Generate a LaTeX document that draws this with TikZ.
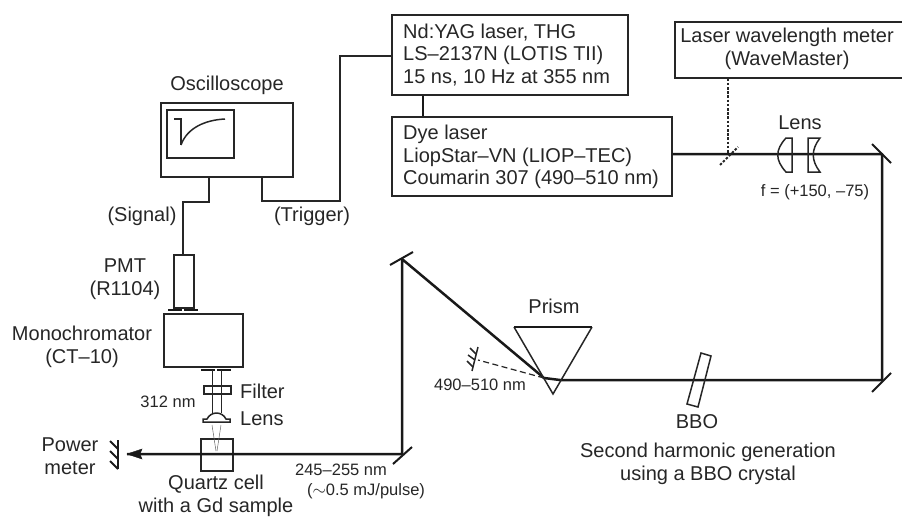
\documentclass[tikz,border=0pt]{standalone}
\usepackage{fontspec}
\setmainfont{Liberation Sans}
\tikzset{
  px/.style={x=1pt,y=-1pt},
  frame/.style={draw=black!85,line width=1.6pt},
  beam/.style={draw=black!90,line width=2.5pt},
  wire/.style={draw=black!85,line width=1.6pt},
  thin part/.style={draw=black!85,line width=1.5pt},
  mirror/.style={draw=black!90,line width=2pt},
  lab/.style={font=\fontsize{20}{22.5}\selectfont,align=center,inner sep=0pt,text=black!85},
  llab/.style={lab,align=left},
  small/.style={font=\fontsize{16.5}{20}\selectfont,align=center,inner sep=0pt,text=black!85},
}
\begin{document}
\begin{tikzpicture}[px]
\useasboundingbox (0,0) rectangle (902,517);
% boxes
\node[frame,minimum width=236pt,minimum height=80pt,anchor=north west] (yag) at (391,14) {};
\node[llab,anchor=west] (yagt) at (403,55) {Nd:YAG laser, THG\\LS–2137N (LOTIS TII)\\15 ns, 10 Hz at 355 nm};
\node[frame,minimum width=280pt,minimum height=79pt,anchor=north west] (dye) at (391,116) {};
\node[llab,anchor=west] (dyet) at (403,157) {Dye laser\\LiopStar–VN (LIOP–TEC)\\Coumarin 307 (490–510 nm)};
\node[frame,minimum width=232pt,minimum height=56pt,anchor=north west] (wm) at (674,21) {};
\node[lab] (wmt) at (787,49) {Laser wavelength meter\\(WaveMaster)};
\node[frame,minimum width=132pt,minimum height=74pt,anchor=north west] (osc) at (160,102) {};
\node[frame,minimum width=67pt,minimum height=48pt,anchor=north west] (scr) at (166,109) {};
\node[lab] (osct) at (227,85) {Oscilloscope};
\node[frame,minimum width=20pt,minimum height=53pt,anchor=north west] (pmt) at (173,254) {};
\node[lab] (pmtt) at (125,279) {PMT\\(R1104)};
\node[frame,minimum width=79pt,minimum height=53pt,anchor=north west] (mono) at (163,313) {};
\node[lab] (monot) at (82,347) {Monochromator\\(CT–10)};
\node[frame,minimum width=32pt,minimum height=32pt,anchor=north west] (cell) at (200,438) {};
\node[frame,minimum width=27pt,minimum height=8pt,anchor=north west] (filter) at (203,385) {};
\node[lab,anchor=west] (filtert) at (240,391) {Filter};
\node[lab,anchor=west] (lenst) at (240,419) {Lens};
\node[small] (nm312) at (168,402) {312 nm};
\node[lab] (powt) at (70,456) {Power\\meter};
\node[lab] (cellt) at (216,496) {Quartz cell\\with a Gd sample};
\node[small] (b245) at (341,470) {245–255 nm};
\node[small] (b05) at (366,491) {($\sim$0.5 mJ/pulse)};
\node[small] (nm490) at (480,385) {490–510 nm};
\node[lab] (prismt) at (554,306) {Prism};
\node[lab] (bbot) at (697,422) {BBO};
\node[lab] (shg) at (708,464) {Second harmonic generation\\using a BBO crystal};
\node[lab] (lenst2) at (800,123) {Lens};
\node[small] (ft) at (815,192) {f = (+150, –75)};
\node[lab] (sig) at (142,216) {(Signal)};
\node[lab] (trig) at (312,216) {(Trigger)};
% wires
\coordinate (w1) at (209,202); \coordinate (w2) at (183,202);
\draw[wire] (osc.south west -| w1) -- (w1) -- (w2) -- (pmt.north west -| w2);
\coordinate (w3) at (262,201); \coordinate (w4) at (340,201); \coordinate (w5) at (340,56);
\draw[wire] (osc.south west -| w3) -- (w3) -- (w4) -- (w5) -- (yag.north west |- w5);
\draw[line width=2.4pt,draw=black!90] (yag.south west -| 423,0) -- (dye.north west -| 423,0);
% trace
\draw[line width=1.5pt,draw=black!85] (174,119) -- (181,119) -- (181,145);
\draw[line width=1.5pt,draw=black!85] (181,145) .. controls (187,128) and (205,120) .. (225,119);
% beams
\coordinate (m1) at (882,154); \coordinate (m2) at (882,380);
\coordinate (pr) at (544,378); \coordinate (pr2) at (560,380);
\coordinate (m3) at (402,259); \coordinate (m4) at (402,454);
\coordinate (tip) at (127,454);
\draw[beam,line join=round] (dye.east |- m1) -- (m1) -- (m2) -- (pr2) -- (pr) -- (m3) -- (m4) -- (tip);
\draw[draw=black!90,fill=black!90] (tip) -- (142,449) -- (140,454) -- (142,459) -- cycle;
% mirrors
\draw[mirror] (872,144) -- (891,163);
\draw[mirror] (872,392) -- (891,373);
\draw[mirror] (390,265) -- (413,252);
\draw[mirror] (393,464) -- (412,447);
% dotted
\draw[line width=2pt,draw=black!85,dash pattern=on 2.5pt off 1.7pt] (wm.south west -| 728,0) -- (728,154);
\draw[line width=2pt,draw=black!85,dash pattern=on 2.5pt off 1.7pt] (720,165) -- (738,147);
% lenses
\draw[thin part] (792,138) -- (792,172) -- (786,172) .. controls (775,160) and (775,150) .. (786,138) -- cycle;
\draw[thin part] (808,138) -- (808,172) -- (820,172) .. controls (811,160) and (811,150) .. (820,138) -- cycle;
% prism
\draw[thin part] (514,327) -- (553,394) -- (592,327);
\draw[line width=2.2pt,draw=black!90] (514,327) -- (592,327);
% dump
\draw[line width=1.2pt,draw=black!85,dash pattern=on 6pt off 3.5pt] (pr) -- (478,360);
\draw[line width=1.5pt,draw=black!85] (478,347) -- (472,371);
\draw[line width=1.5pt,draw=black!85] (476,354) -- (470,348) (475,360) -- (468,355) (473,367) -- (467,361);
% BBO
\draw[thin part] (701,353) -- (711,356) -- (698,407) -- (687,404) -- cycle;
% monochromator optics
\draw[line width=1.8pt,draw=black!90] (168,310) -- (182,310) (184,310) -- (198,310);
\draw[line width=1.8pt,draw=black!90] (201,370) -- (215,370) (217,370) -- (231,370);
\draw[line width=1pt,draw=black!85] (212,370) -- (212,413) (221,370) -- (221,413);
\draw[thin part] (203,422) -- (230,422) -- (230,419) -- (226,419) .. controls (222,411) and (211,411) .. (207,419) -- (203,419) -- cycle;
\draw[line width=.5pt,draw=black!60] (212,425) -- (216,451) (221,425) -- (217,451);
% power meter
\draw[line width=2pt,draw=black!90] (118,440) -- (118,469);
\draw[line width=2pt,draw=black!90] (118,449) -- (110,441) (118,459) -- (110,451) (118,469) -- (110,461);
\end{tikzpicture}
\end{document}
